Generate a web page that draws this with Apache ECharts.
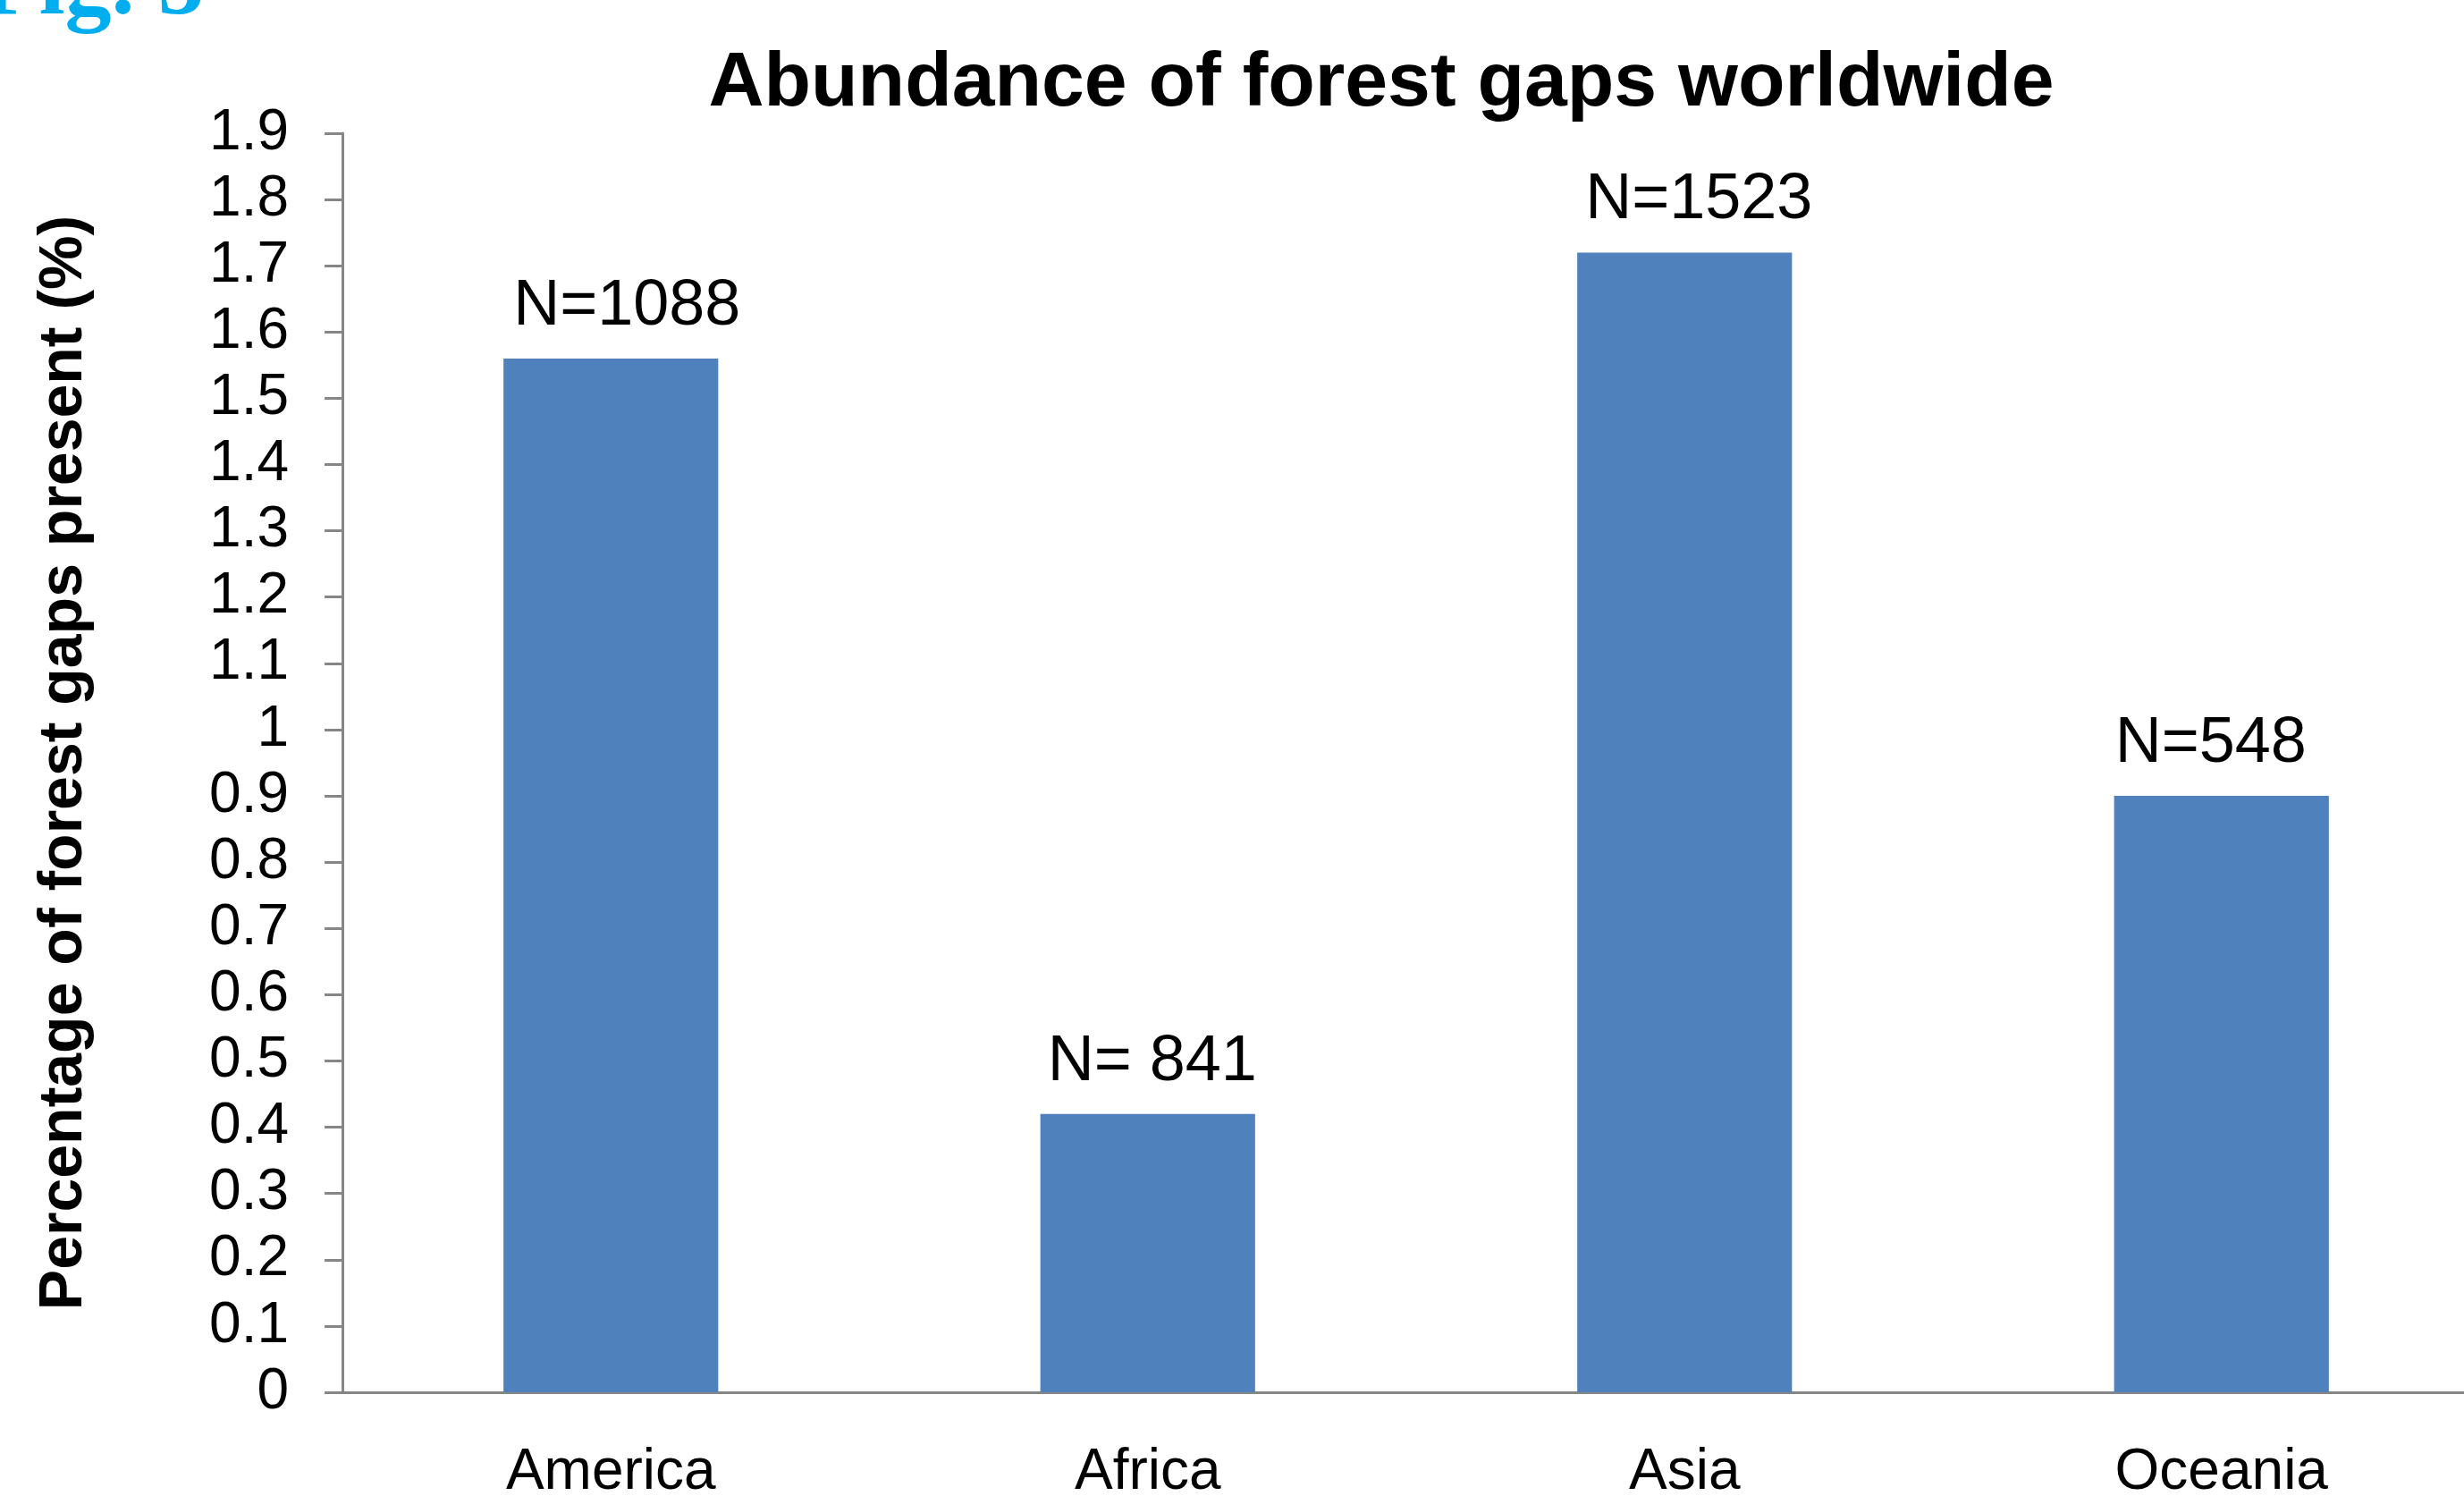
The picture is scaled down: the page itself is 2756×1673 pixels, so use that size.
<!DOCTYPE html>
<html>
<head>
<meta charset="utf-8">
<script src="https://cdn.jsdelivr.net/npm/echarts@6/dist/echarts.min.js"></script>
<style>
  html, body { margin: 0; padding: 0; background: #fff; }
  #chart { width: 2756px; height: 1673px; }
</style>
</head>
<body>
<div id="chart"></div>
<script>
const regions = ['America', 'Africa', 'Asia', 'Oceania']
const gapPercent = [1.56, 0.42, 1.72, 0.90]
const sampleLabels = ['N=1088', 'N= 841', 'N=1523', 'N=548']

// the N labels were nudged by hand in the original, not quite centred
const labelShiftX = [18, 5, 16, -12]

const narrow = '"Liberation Sans Narrow", "Liberation Sans", sans-serif'
const axisGray = '#868686'

const chart = echarts.init(document.getElementById('chart'))

chart.setOption({
  backgroundColor: '#fff',
  animation: false,
  title: {
    text: 'Abundance of forest gaps worldwide',
    left: 1540,
    top: 46,
    textAlign: 'center',
    textStyle: { fontFamily: '"Liberation Sans", Arial, sans-serif', fontWeight: 'bold', fontSize: 86, color: '#000' },
  },
  graphic: [
    {
      type: 'text',
      left: -20,
      top: -64,
      style: { text: 'Fig. 5', font: 'bold 104px "Liberation Serif", serif', fill: '#00aeef' },
    },
  ],
  // plot runs past the right edge like in the cropped original
  grid: { left: 383, right: -29, top: 149, bottom: 116, outerBoundsMode: 'none' },
  xAxis: {
    type: 'category',
    data: regions,
    axisLine: { lineStyle: { color: axisGray, width: 3 } },
    axisTick: { length: 20, lineStyle: { color: axisGray, width: 3 } },
    axisLabel: { margin: 58, fontSize: 64, fontFamily: narrow, color: '#000' },
  },
  yAxis: {
    type: 'value',
    min: 0,
    max: 1.9,
    interval: 0.1,
    name: 'Percentage of forest gaps present (%)',
    nameLocation: 'middle',
    nameGap: 277,
    nameTextStyle: { fontFamily: '"Liberation Sans", Arial, sans-serif', fontWeight: 'bold', fontSize: 68, color: '#000' },
    axisLine: { show: true, lineStyle: { color: axisGray, width: 3 } },
    axisTick: { show: true, length: 20, lineStyle: { color: axisGray, width: 3 } },
    axisLabel: { margin: 60, fontSize: 64, fontFamily: narrow, color: '#000' },
    splitLine: { show: false },
  },
  series: [
    {
      type: 'bar',
      data: gapPercent.map((v, i) => ({
        value: v,
        label: { offset: [labelShiftX[i], 0] },
      })),
      barWidth: '40%',
      itemStyle: { color: '#4f81bd' },
      label: {
        show: true,
        position: 'top',
        distance: 22,
        fontSize: 72,
        fontFamily: narrow,
        color: '#000',
        formatter: p => sampleLabels[p.dataIndex],
      },
    },
  ],
})
</script>
</body>
</html>
